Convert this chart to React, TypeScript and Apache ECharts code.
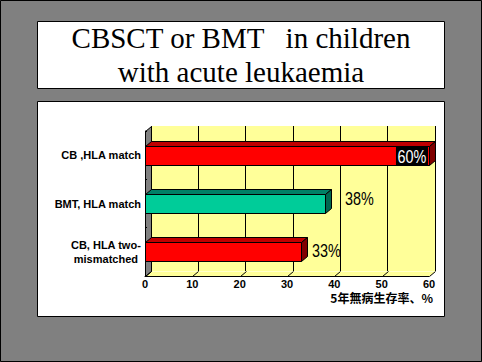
import React, { useEffect, useRef } from "react";
import * as echarts from "echarts";

// ---- data ----
const titleLines = ["CBSCT or BMT   in children", "with acute leukaemia"];
const categories = ["CB ,HLA match", "BMT, HLA match", "CB, HLA two-\nmismatched"];
const values = [60, 38, 33];
const xTicks = [0, 10, 20, 30, 40, 50, 60];
const xMin = 0;
const xMax = 60;
const xStep = 10;
const xAxisName = "5年無病生存率、%";

// ---- styles ----
const barFaces = [
  { front: "#FF0000", top: "#C00000", side: "#800000" },
  { front: "#00CC99", top: "#008066", side: "#006650" },
  { front: "#FF0000", top: "#C00000", side: "#800000" },
];
const labelInside = [true, false, false];
const labelGapX = [-2, 19, 10];
const labelGapY = [0, -5, -1];
const DX = 6;
const DY = 5;
const FRONT = { left: 145, right: 53, top: 131, bottom: 86 };
const WALL = "#FFFF99";
const SANS = "Liberation Sans, Arial, sans-serif";
const SERIF = "Liberation Serif, DejaVu Serif, serif";
const CJK = "Noto Sans CJK JP, sans-serif";
const LABEL_SCALE = 0.8;

const px = (n: number) => Math.round(n) + 0.5;

export default function App() {
  const ref = useRef<HTMLDivElement>(null);
  useEffect(() => {
    if (!ref.current) return;
    const chart = echarts.init(ref.current, null, { renderer: "svg" });

    const frameRender = (params: any, api: any) => {
      const cs = params.coordSys;
      const x0 = px(cs.x);
      const x1 = px(cs.x + cs.width);
      const y0 = px(cs.y);
      const y1 = px(cs.y + cs.height);
      const children: any[] = [
        {
          type: "polygon",
          shape: { points: [[x0, y1], [x0 + DX, y1 - DY], [x1 + DX, y1 - DY], [x1, y1]] },
          style: { fill: WALL, stroke: null },
        },
        {
          type: "polygon",
          shape: { points: [[x0, y0], [x0 + DX, y0 - DY], [x0 + DX, y1 - DY], [x0, y1]] },
          style: { fill: "#808080", stroke: "#000", lineWidth: 1 },
        },
      ];
      xTicks.forEach((v) => {
        const p = api.coord([v, 0]);
        const x = px(p[0]);
        children.push({
          type: "line",
          shape: { x1: x, y1: y1, x2: x + DX, y2: y1 - DY },
          style: { stroke: "#000", lineWidth: 1 },
        });
      });
      return { type: "group", children };
    };

    const barRender = (params: any, api: any) => {
      const v = api.value(0);
      const ci = api.value(1);
      const i = params.dataIndex;
      const f = barFaces[i];
      const p0 = api.coord([0, ci]);
      const p1 = api.coord([v, ci]);
      const band = api.size([0, 1])[1];
      const h = Math.round(band * 0.4);
      const yc = p0[1];
      const top = px(yc - h / 2);
      const bot = top + h;
      const xa = px(p0[0]);
      const xb = px(p1[0]);
      const children: any[] = [
        {
          type: "polygon",
          shape: { points: [[xa, top], [xa + DX, top - DY], [xb + DX, top - DY], [xb, top]] },
          style: { fill: f.top, stroke: "#000", lineWidth: 1 },
        },
        {
          type: "polygon",
          shape: { points: [[xb, top], [xb + DX, top - DY], [xb + DX, bot - DY], [xb, bot]] },
          style: { fill: f.side, stroke: "#000", lineWidth: 1 },
        },
        {
          type: "rect",
          shape: { x: xa, y: top, width: xb - xa, height: h },
          style: { fill: f.front, stroke: "#000", lineWidth: 1 },
        },
      ];
      const text = `${v}%`;
      if (labelInside[i]) {
        children.push({
          type: "text",
          z2: 10,
          x: Math.round(xb + labelGapX[i]),
          y: top + h / 2,
          scaleX: LABEL_SCALE,
          style: {
            text,
            x: 0,
            y: 0,
            align: "right",
            verticalAlign: "middle",
            fill: "#fff",
            backgroundColor: "#000",
            padding: [1, 2, 0, 2],
            lineHeight: h - 1,
            fontSize: 18,
            fontFamily: SANS,
          },
        });
      } else {
        children.push({
          type: "text",
          z2: 10,
          x: Math.round(xb + labelGapX[i]),
          y: yc + labelGapY[i],
          scaleX: LABEL_SCALE,
          style: {
            text,
            x: 0,
            y: 0,
            align: "left",
            verticalAlign: "middle",
            fill: "#000",
            fontSize: 18,
            fontFamily: SANS,
          },
        });
      }
      return { type: "group", children };
    };

    const option: any = {
      animation: false,
      backgroundColor: "#808080",
      title: {
        text: titleLines.join("\n"),
        left: "center",
        top: 21,
        padding: 0,
        textStyle: {
          color: "#000",
          fontSize: 29,
          fontWeight: "normal",
          fontFamily: SERIF,
          lineHeight: 34,
        },
      },
      graphic: [
        {
          type: "rect",
          z: -1,
          shape: { x: 0.5, y: 0.5, width: 481, height: 361 },
          style: { fill: "none", stroke: "#000", lineWidth: 1 },
        },
        {
          type: "rect",
          z: -1,
          shape: { x: 37.5, y: 21.5, width: 407, height: 67 },
          style: { fill: "#fff", stroke: "#000", lineWidth: 1 },
        },
        {
          type: "rect",
          z: -1,
          shape: { x: 37.5, y: 101.5, width: 407, height: 215 },
          style: { fill: "#fff", stroke: "#000", lineWidth: 1 },
        },
      ],
      grid: [
        { ...FRONT, show: false, containLabel: false },
        {
          left: FRONT.left + DX,
          right: FRONT.right - DX,
          top: FRONT.top - DY,
          bottom: FRONT.bottom + DY,
          show: true,
          backgroundColor: WALL,
          borderWidth: 0,
          containLabel: false,
        },
      ],
      xAxis: [
        {
          type: "value",
          gridIndex: 0,
          min: xMin,
          max: xMax,
          interval: xStep,
          z: 10,
          axisLine: { show: true, lineStyle: { color: "#000", width: 1 } },
          axisTick: { show: false },
          splitLine: { show: false },
          axisLabel: {
            margin: 2,
            color: "#000",
            fontSize: 11,
            fontWeight: "bold",
            fontFamily: SANS,
          },
          name: xAxisName,
          nameLocation: "end",
          nameGap: 4,
          nameTextStyle: {
            color: "#000",
            fontSize: 12,
            fontWeight: "bold",
            fontFamily: CJK,
            align: "right",
            verticalAlign: "top",
            padding: [15, 0, 0, 0],
          },
        },
        {
          type: "value",
          gridIndex: 1,
          min: xMin,
          max: xMax,
          interval: xStep,
          axisLine: { show: false },
          axisTick: { show: false },
          axisLabel: { show: false },
          splitLine: { show: true, lineStyle: { color: "#000", width: 1 } },
        },
      ],
      yAxis: [
        {
          type: "category",
          gridIndex: 0,
          inverse: true,
          data: categories,
          z: 10,
          axisLine: { show: true, lineStyle: { color: "#000", width: 1 } },
          axisTick: { show: true, inside: true, length: 2, lineStyle: { color: "#000" } },
          splitLine: { show: false },
          axisLabel: {
            interval: 0,
            margin: 4,
            color: "#000",
            fontSize: 11,
            fontWeight: "bold",
            fontFamily: SANS,
            lineHeight: 14,
            formatter: (v: string) =>
              v.indexOf("\n") >= 0
                ? v
                    .split("\n")
                    .map((l) => `{c|${l}}`)
                    .join("\n")
                : v,
            rich: {
              c: {
                align: "center",
                color: "#000",
                fontSize: 11,
                fontWeight: "bold",
                fontFamily: SANS,
                lineHeight: 14,
              },
            },
          },
        },
        {
          type: "value",
          gridIndex: 1,
          show: false,
          splitLine: { show: false },
        },
      ],
      series: [
        {
          type: "custom",
          xAxisIndex: 0,
          yAxisIndex: 0,
          z: 2,
          silent: true,
          renderItem: frameRender,
          encode: { x: 0, y: 1 },
          data: [[0, 0]],
        },
        {
          type: "custom",
          xAxisIndex: 0,
          yAxisIndex: 0,
          z: 3,
          renderItem: barRender,
          encode: { x: 0, y: 1 },
          data: values.map((v, i) => [v, i]),
        },
      ],
    };
    chart.setOption(option);
    return () => chart.dispose();
  }, []);
  return (
    <div
      ref={ref}
      style={{ position: "absolute", left: 0, top: 0, width: 482, height: 362 }}
    />
  );
}
